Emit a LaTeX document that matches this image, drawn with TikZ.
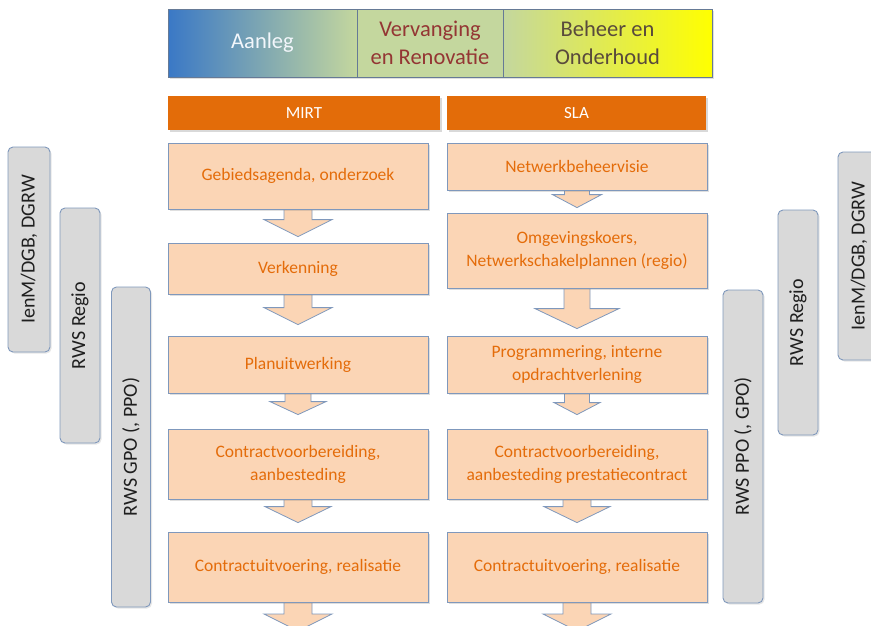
\documentclass[tikz,border=0pt]{standalone}
\usepackage{fontspec}
\setmainfont{Carlito}
\usetikzlibrary{calc,shadows}
\definecolor{peach}{HTML}{FBD5B5}
\definecolor{orangetxt}{HTML}{E46C0A}
\definecolor{mirtfill}{HTML}{E36C09}
\definecolor{bordr}{HTML}{7F98BC}
\definecolor{grayfill}{HTML}{D9D9D9}
\definecolor{hblue}{HTML}{3A78C6}
\definecolor{hgreen}{HTML}{C4D79E}
\definecolor{hyellow}{HTML}{FFFF00}
\definecolor{vtxt}{HTML}{943634}
\definecolor{btxt}{HTML}{594A3C}
\definecolor{atxt}{HTML}{F2F6FB}
\pgfdeclarelayer{background}
\pgfsetlayers{background,main}
\tikzset{
  stepbox/.style={draw=bordr, line width=0.8pt, fill=peach, text=orangetxt,
    minimum width=260, inner sep=0pt, align=center,
    font=\fontsize{17.5}{23}\selectfont,
    drop shadow={shadow xshift=2pt, shadow yshift=-2pt, opacity=0.25}},
  barbox/.style={fill=mirtfill, text=white, minimum height=34, inner sep=0pt,
    font=\fontsize{17}{20}\selectfont,
    drop shadow={shadow xshift=2pt, shadow yshift=-2pt, opacity=0.3}},
  hdrbox/.style={draw=bordr!80!black, line width=0.8pt, minimum height=68,
    inner sep=0pt, align=center, font=\fontsize{22.5}{28}\selectfont,
    drop shadow={shadow xshift=1.5pt, shadow yshift=-2pt, opacity=0.25}},
  graybox/.style={draw=bordr, line width=0.9pt, fill=grayfill, rounded corners=5pt,
    inner sep=0pt, text=black!88, font=\fontsize{20}{24}\selectfont,
    drop shadow={shadow xshift=1.5pt, shadow yshift=-1.5pt, opacity=0.2}},
  arrowbody/.style={draw=bordr, line width=0.8pt, fill=peach, line join=miter}
}
% from node, to point, gap, shaft half, head half, head length
\newcommand\blockarr[6]{%
  \draw[arrowbody] let \p1=(#1.south), \p2=(#2) in
   (\x1-#4pt,\y1+4pt) -- (\x1-#4pt,\y2+#3pt+#6pt) -- (\x1-#5pt,\y2+#3pt+#6pt)
   -- (\x1,\y2+#3pt) -- (\x1+#5pt,\y2+#3pt+#6pt) -- (\x1+#4pt,\y2+#3pt+#6pt)
   -- (\x1+#4pt,\y1+4pt) -- cycle;}
\begin{document}
\begin{tikzpicture}[x=1pt,y=-1pt]
\useasboundingbox (0,0) rectangle (871,625);
\clip (0,0) rectangle (871,625);

% header
\node[hdrbox, minimum width=189, left color=hblue, right color=hgreen, text=atxt] (aan) at (262.5,43) {Aanleg};
\node[hdrbox, minimum width=146, fill=hgreen, text=vtxt] (ver) at (430,43) {Vervanging\\en Renovatie};
\node[hdrbox, minimum width=209, left color=hgreen, right color=hyellow, text=btxt] (beh) at (607.5,43) {Beheer en\\Onderhoud};

% bars
\node[barbox, minimum width=272] (mirt) at (304,113) {MIRT};
\node[barbox, minimum width=259] (sla) at (576.5,113) {SLA};

% left column
\node[stepbox, minimum height=66] (L1) at (298,176) {Gebiedsagenda, onderzoek};
\node[stepbox, minimum height=51] (L2) at (298,268.5) {Verkenning};
\node[stepbox, minimum height=57] (L3) at (298,364.5) {Planuitwerking};
\node[stepbox, minimum height=70] (L4) at (298,464) {Contractvoorbereiding,\\aanbesteding};
\node[stepbox, minimum height=70] (L5) at (298,567) {Contractuitvoering, realisatie};
\coordinate (endL) at (298,631);

% right column
\node[stepbox, minimum height=47] (R1) at (577,166.5) {Netwerkbeheervisie};
\node[stepbox, minimum height=75] (R2) at (577,250.5) {Omgevingskoers,\\Netwerkschakelplannen (regio)};
\node[stepbox, minimum height=57] (R3) at (577,364.5) {Programmering, interne\\opdrachtverlening};
\node[stepbox, minimum height=70] (R4) at (577,464) {Contractvoorbereiding,\\aanbesteding prestatiecontract};
\node[stepbox, minimum height=70] (R5) at (577,567) {Contractuitvoering, realisatie};
\coordinate (endR) at (577,631);

\begin{pgfonlayer}{background}
\blockarr{L1}{L2.north}{6}{14}{34}{17}
\blockarr{L2}{L3.north}{11}{14}{34}{17}
\blockarr{L3}{L4.north}{14}{13}{28}{13}
\blockarr{L4}{L5.north}{9}{14}{33}{16}
\blockarr{L5}{endL}{0}{14}{34}{17}
\blockarr{R1}{R2.north}{5}{12.5}{24.5}{13}
\blockarr{R2}{R3.north}{7}{13}{42}{20}
\blockarr{R3}{R4.north}{14}{12.5}{23}{12}
\blockarr{R4}{R5.north}{9}{14}{33}{16}
\blockarr{R5}{endR}{0}{14}{34}{17}
\end{pgfonlayer}

% side boxes left
\node[graybox, minimum width=42, minimum height=205] (lmin) at (29,249.5) {\rotatebox{90}{IenM/DGB, DGRW}};
\node[graybox, minimum width=40, minimum height=235] (lreg) at (80,325.5) {\rotatebox{90}{RWS Regio}};
\node[graybox, minimum width=39, minimum height=320] (lgpo) at (131,447) {\rotatebox{90}{RWS GPO (, PPO)}};
% side boxes right
\node[graybox, minimum width=40, minimum height=313] (rppo) at (743,446.5) {\rotatebox{90}{RWS PPO (, GPO)}};
\node[graybox, minimum width=40, minimum height=225] (rreg) at (798,322.5) {\rotatebox{90}{RWS Regio}};
\node[graybox, minimum width=42, minimum height=208] (rmin) at (859,256) {\rotatebox{90}{IenM/DGB, DGRW}};
\end{tikzpicture}
\end{document}
